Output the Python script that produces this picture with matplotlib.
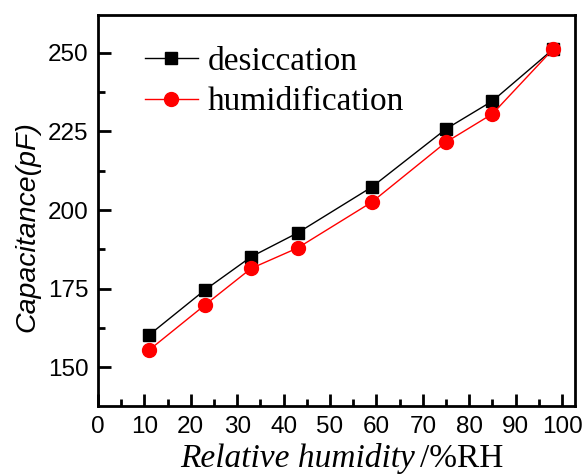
import matplotlib
matplotlib.use("Agg")
import matplotlib.pyplot as plt
from matplotlib.ticker import MultipleLocator

humidity = [11, 23, 33, 43, 59, 75, 85, 98]
desiccation = [160.2, 174.5, 185.1, 192.7, 207.3, 225.8, 234.7, 251.1]
humidification = [155.4, 169.7, 181.4, 187.9, 202.5, 221.6, 230.6, 251.1]

fig = plt.figure(figsize=(5.85, 4.76), dpi=100)
ax = fig.add_axes([0.1675, 0.147, 0.8155, 0.821])

ax.plot(humidity, desiccation, color='black', lw=1.0, marker='s', ms=9,
        mfc='black', mec='black', label='desiccation')
ax.plot(humidity, humidification, color='red', lw=1.0, marker='o', ms=10,
        mfc='red', mec='red', label='humidification')

ax.set_xlim(0, 102.8)
ax.set_ylim(137.6, 262)
ax.xaxis.set_major_locator(MultipleLocator(10))
ax.xaxis.set_minor_locator(MultipleLocator(5))
ax.yaxis.set_major_locator(MultipleLocator(25))
ax.yaxis.set_minor_locator(MultipleLocator(12.5))

for s in ax.spines.values():
    s.set_linewidth(2)
ax.tick_params(which='both', direction='in', top=False, right=False, width=2)
ax.tick_params(which='major', length=9, labelsize=17.5, pad=7)
ax.tick_params(which='minor', length=5)
for lab in ax.get_xticklabels() + ax.get_yticklabels():
    lab.set_family('Liberation Sans')

ax.set_ylabel('Capacitance(pF)', family='Liberation Sans', style='italic', fontsize=20.5, labelpad=6)
ax.yaxis.set_label_coords(-0.12, 0.46)

fig.text(0.709, 0.019, 'Relative humidity', family='Liberation Serif', style='italic',
         fontsize=24, ha='right', va='baseline')
fig.text(0.718, 0.019, '/%RH', family='Liberation Serif', fontsize=24, ha='left', va='baseline')

leg = ax.legend(loc='upper left', bbox_to_anchor=(0.098, 0.92), frameon=False,
                prop={'family': 'Liberation Serif', 'size': 24}, handlelength=1.6,
                handletextpad=0.3, labelspacing=0.3, borderpad=0, borderaxespad=0)

fig.savefig('out.png', dpi=100)
